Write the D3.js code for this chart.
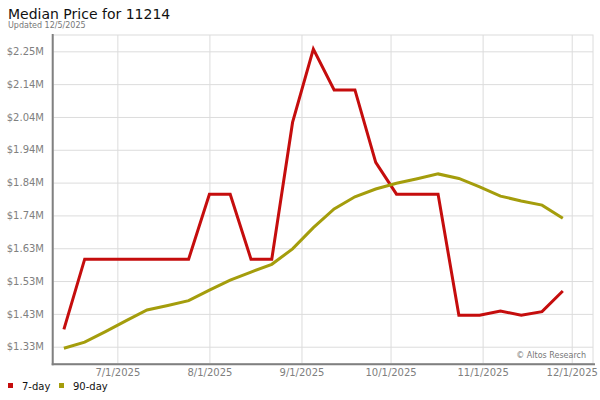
<!DOCTYPE html>
<html>
<head>
<meta charset="utf-8">
<script src="https://cdn.jsdelivr.net/npm/d3@7"></script>
<style>
  body { margin: 0; background: #fff; }
  svg { display: block; font-family: "DejaVu Sans", sans-serif; }
</style>
</head>
<body>
<svg width="600" height="400"></svg>
<script>
// weekly dates (Fridays)
const dates = ['6/13/2025', '6/20/2025', '6/27/2025', '7/4/2025', '7/11/2025', '7/18/2025', '7/25/2025',
  '8/1/2025', '8/8/2025', '8/15/2025', '8/22/2025', '8/29/2025', '9/5/2025', '9/12/2025', '9/19/2025',
  '9/26/2025', '10/3/2025', '10/10/2025', '10/17/2025', '10/24/2025', '10/31/2025', '11/7/2025',
  '11/14/2025', '11/21/2025', '11/28/2025'];

// median price, millions
const sevenDay = [1.382, 1.600, 1.600, 1.600, 1.600, 1.600, 1.600, 1.802, 1.802, 1.600, 1.600, 2.025,
  2.253, 2.126, 2.126, 1.901, 1.802, 1.802, 1.802, 1.426, 1.426, 1.439, 1.426, 1.437, 1.501];
const ninetyDay = [1.323, 1.342, 1.375, 1.409, 1.442, 1.456, 1.471, 1.504, 1.535, 1.560, 1.584, 1.632,
  1.698, 1.756, 1.794, 1.818, 1.836, 1.850, 1.865, 1.851, 1.825, 1.796, 1.781, 1.768, 1.727];

const yTicks = [1.328, 1.430, 1.532, 1.634, 1.736, 1.838, 1.940, 2.042, 2.144, 2.246];
const xTicks = ['7/1/2025', '8/1/2025', '9/1/2025', '10/1/2025', '11/1/2025', '12/1/2025'];

const seriesNames = ['7-day', '90-day'];
const colors = ['#c50d0d', '#a49d0c'];

const parse = d3.timeParse('%m/%d/%Y');
const plotLeft = 53, plotRight = 593, plotTop = 35, plotBottom = 363.5;

const svg = d3.select('svg');

const x = d3.scaleTime()
    .domain([new Date(2025, 5, 9, 8), new Date(2025, 11, 8, 4)])
    .range([plotLeft, plotRight]);

const y = d3.scaleLinear()
    .domain([1.2758, 2.2967])
    .range([plotBottom, plotTop]);

// titles
svg.append('text')
    .attr('x', 8)
    .attr('y', 19)
    .attr('font-size', 14)
    .attr('fill', '#111')
    .text('Median Price for 11214');

svg.append('text')
    .attr('x', 8)
    .attr('y', 27.5)
    .attr('font-size', 8)
    .attr('fill', '#777')
    .text('Updated 12/5/2025');

// plot frame
svg.append('rect')
    .attr('x', plotLeft)
    .attr('y', plotTop)
    .attr('width', plotRight - plotLeft)
    .attr('height', plotBottom - plotTop)
    .attr('fill', '#fff')
    .attr('stroke', '#dcdcdc');

// grid
svg.append('g')
    .attr('transform', `translate(0, ${plotBottom})`)
    .call(d3.axisBottom(x)
        .tickValues(xTicks.map(parse))
        .tickSize(-(plotBottom - plotTop))
        .tickFormat(''))
    .call(g => g.select('.domain').remove())
    .call(g => g.selectAll('line').attr('stroke', '#dcdcdc'));

svg.append('g')
    .attr('transform', `translate(${plotLeft}, 0)`)
    .call(d3.axisLeft(y)
        .tickValues(yTicks)
        .tickSize(-(plotRight - plotLeft))
        .tickFormat(''))
    .call(g => g.select('.domain').remove())
    .call(g => g.selectAll('line').attr('stroke', '#dcdcdc'));

// tick labels
svg.append('g')
    .attr('transform', `translate(0, ${plotBottom})`)
    .call(d3.axisBottom(x)
        .tickValues(xTicks.map(parse))
        .tickSize(0)
        .tickPadding(5)
        .tickFormat(d3.timeFormat('%-m/%-d/%Y')))
    .call(g => g.select('.domain').remove())
    .call(g => g.selectAll('text')
        .attr('font-size', 10)
        .attr('font-family', '"DejaVu Sans", sans-serif')
        .attr('fill', '#808080'));

svg.append('g')
    .attr('transform', `translate(${plotLeft}, 0)`)
    .call(d3.axisLeft(y)
        .tickValues(yTicks)
        .tickSize(0)
        .tickPadding(9)
        .tickFormat(d => '$' + d.toFixed(2) + 'M'))
    .call(g => g.select('.domain').remove())
    .call(g => g.selectAll('text')
        .attr('font-size', 10)
        .attr('font-family', '"DejaVu Sans", sans-serif')
        .attr('fill', '#808080'));

// lines
const line = d3.line()
    .x((d, i) => x(parse(dates[i])))
    .y(d => y(d));

[sevenDay, ninetyDay].forEach((s, k) => {
  svg.append('path')
      .datum(s)
      .attr('fill', 'none')
      .attr('stroke', colors[k])
      .attr('stroke-width', 3)
      .attr('d', line);
});

// credit
svg.append('text')
    .attr('x', 586)
    .attr('y', 357.5)
    .attr('text-anchor', 'end')
    .attr('font-size', 8)
    .attr('fill', '#777')
    .text('\u00a9 Altos Research');

// heavy axis lines
svg.append('line')
    .attr('x1', 52.7).attr('x2', 52.7)
    .attr('y1', 34).attr('y2', 365.3)
    .attr('stroke', '#808080')
    .attr('stroke-width', 2);

svg.append('line')
    .attr('x1', 51.7).attr('x2', 595)
    .attr('y1', 364.3).attr('y2', 364.3)
    .attr('stroke', '#808080')
    .attr('stroke-width', 2);

// legend
const legend = svg.append('g')
    .selectAll('g')
    .data(seriesNames)
    .enter()
    .append('g')
    .attr('transform', (d, i) => `translate(${[8, 59][i]}, 383)`);

legend.append('rect')
    .attr('width', 5)
    .attr('height', 5)
    .attr('fill', (d, i) => colors[i]);

legend.append('text')
    .attr('x', 14)
    .attr('y', 7)
    .attr('font-size', 10)
    .attr('fill', '#111')
    .text(d => d);
</script>
</body>
</html>
